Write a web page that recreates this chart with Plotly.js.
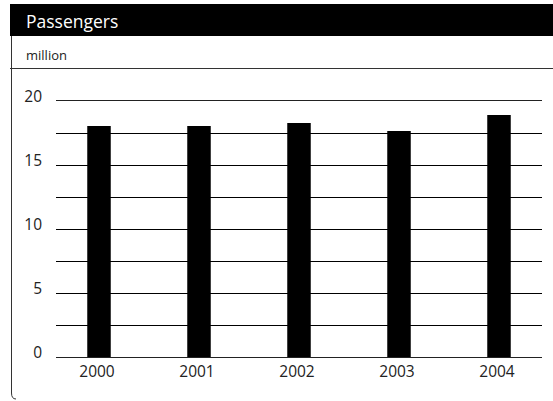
<!DOCTYPE html>
<html>
<head>
<meta charset="utf-8">
<script src="https://cdn.plot.ly/plotly-3.0.1.min.js"></script>
<style>html,body{margin:0;padding:0;background:#fff;}#chart{width:553px;height:401px;}</style>
</head>
<body>
<div id="chart"></div>
<script>
const years = ["2000", "2001", "2002", "2003", "2004"];
const passengers = [18.05, 18.05, 18.28, 17.66, 18.9];
const yTickVals = [0, 5, 10, 15, 20];
const yTickText = ["0", "5", "10", "15", "20"];
const chartTitle = "Passengers";
const unitLabel = "million";

const W = 553, H = 401;
const M = {l: 56, r: 11, t: 101, b: 44};
const pw = W - M.l - M.r, ph = H - M.t - M.b;
const px = x => (x - M.l) / pw;
const py = y => (H - M.b - y) / ph;

const font = "'Open Sans', 'Noto Sans', sans-serif";

const data = [{
  type: "bar",
  x: years,
  y: passengers,
  marker: {color: "#000", line: {width: 0}},
  width: 0.235,
  hoverinfo: "x+y"
}];

const layout = {
  width: W, height: H,
  margin: M,
  paper_bgcolor: "#fff",
  plot_bgcolor: "#fff",
  showlegend: false,
  font: {family: font, size: 15, color: "#222"},
  xaxis: {
    type: "category",
    range: [-0.43, 4.43],
    showgrid: false,
    zeroline: false,
    showline: true,
    mirror: true,
    linecolor: "#222",
    linewidth: 1,
    ticks: "",
    ticklabelstandoff: 0,
    ticklabelshift: -2,
    tickfont: {family: font, size: 15.5, color: "#222"},
    fixedrange: true
  },
  yaxis: {
    range: [0, 20],
    tickvals: yTickVals,
    ticktext: yTickText,
    showgrid: true,
    gridcolor: "#000",
    gridwidth: 1,
    minor: {dtick: 2.5, showgrid: true, gridcolor: "#000", gridwidth: 1},
    zeroline: false,
    showline: false,
    ticks: "",
    ticklabelstandoff: 13,
    ticklabelshift: -4,
    tickfont: {family: font, size: 15.5, color: "#222"},
    fixedrange: true
  },
  shapes: [
    {type: "rect", xref: "paper", yref: "paper", x0: px(10), x1: px(553), y0: py(36), y1: py(4),
     fillcolor: "#000", line: {width: 0}, layer: "below"},
    {type: "line", xref: "paper", yref: "paper", x0: px(10), x1: px(553), y0: py(68.5), y1: py(68.5),
     line: {color: "#333", width: 1}},
    {type: "path", xref: "paper", yref: "paper",
     path: "M " + px(11.5) + "," + py(36) + " L " + px(11.5) + "," + py(393) +
           " Q " + px(11.5) + "," + py(399) + " " + px(16) + "," + py(399),
     line: {color: "#333", width: 1}}
  ],
  annotations: [
    {xref: "paper", yref: "paper", x: px(24), y: py(21), xanchor: "left", yanchor: "middle",
     text: chartTitle, showarrow: false, font: {family: font, size: 17.5, color: "#fff"}},
    {xref: "paper", yref: "paper", x: px(24), y: py(55), xanchor: "left", yanchor: "middle",
     text: unitLabel, showarrow: false, font: {family: font, size: 13, color: "#222"}}
  ]
};

Plotly.newPlot("chart", data, layout, {displayModeBar: false, staticPlot: true});
</script>
</body>
</html>
